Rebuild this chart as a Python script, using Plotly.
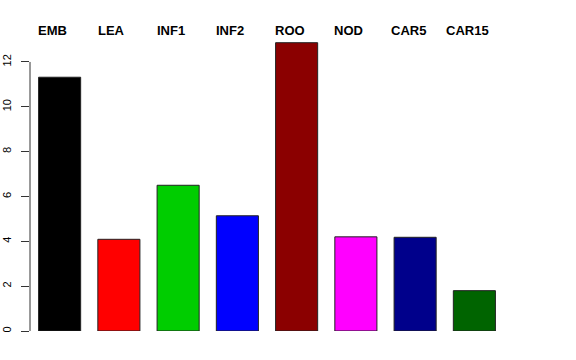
import plotly.graph_objects as go

categories = ["EMB", "LEA", "INF1", "INF2", "ROO", "NOD", "CAR5", "CAR15"]
values = [11.32, 4.09, 6.50, 5.14, 12.86, 4.20, 4.18, 1.80]
colors = ["#000000", "#FF0000", "#00CD00", "#0000FF", "#8B0000", "#FF00FF", "#00008B", "#006400"]
y_ticks = [0, 2, 4, 6, 8, 10, 12]

fig = go.Figure()
fig.add_trace(go.Bar(
    x=categories, y=values,
    marker=dict(color=colors, line=dict(color="#222222", width=1)),
    showlegend=False, hoverinfo="skip",
))

for c in categories:
    fig.add_annotation(
        x=c, y=1, xref="x", yref="paper", text="<b>%s</b>" % c,
        showarrow=False, xanchor="center", yanchor="middle", yshift=10, xshift=-7,
        font=dict(family="Liberation Sans, Arial", size=13, color="black"),
    )

# R-style axis line spanning only the tick range
fig.add_shape(type="line", xref="paper", yref="y", x0=0, x1=0, y0=y_ticks[0], y1=y_ticks[-1],
              xsizemode="pixel", xanchor=0,
              line=dict(color="#333333", width=1))

fig.update_layout(
    width=576, height=360,
    margin=dict(l=30, r=72, t=40, b=29, pad=0, autoexpand=False),
    paper_bgcolor="white", plot_bgcolor="white",
    bargap=0.29,
    font=dict(family="Liberation Sans, Arial", color="black"),
    xaxis=dict(type="category", showticklabels=False, showline=False, showgrid=False,
               zeroline=False, ticks="", range=[-0.5, 7.5], automargin=False),
    yaxis=dict(range=[0, 12.98], tickvals=y_ticks, ticktext=[str(v) for v in y_ticks],
               showgrid=False, zeroline=False, showline=False, automargin=False,
               ticks="outside", ticklen=8, tickcolor="#333333", tickwidth=1,
               tickangle=-90, ticklabelstandoff=6,
               tickfont=dict(family="Liberation Sans, Arial", size=11, color="black")),
)

fig.write_html("out.html", config={"displayModeBar": False},
               post_script="document.body.style.margin='0';")
